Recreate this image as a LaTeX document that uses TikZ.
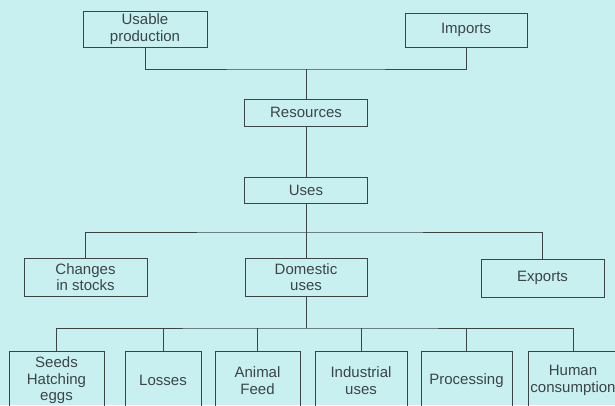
\documentclass[tikz,border=0pt]{standalone}
\usepackage{fontspec}
\setmainfont{Liberation Sans}
\usetikzlibrary{arrows}
\definecolor{paper}{RGB}{200,240,240}
\definecolor{ink}{RGB}{60,68,70}
\begin{document}
\begin{tikzpicture}[x=1pt,y=-1pt,
    box/.style={draw=ink,line width=1pt,text=ink,align=center,inner sep=1pt,
      font=\fontsize{15}{16.5}\selectfont},
    link/.style={draw=ink,line width=1pt}]
    \fill[paper] (0,0) rectangle (615,405);
    \clip (0,0) rectangle (615,405);
    \node[box,minimum width=124pt,minimum height=36pt] (prod) at (145,29) {Usable\\production};
    \node[box,minimum width=122pt,minimum height=34pt] (imp) at (466,30) {Imports};
    \node[box,minimum width=123pt,minimum height=27pt] (res) at (306,112.5) {Resources};
    \node[box,minimum width=123pt,minimum height=26pt] (uses) at (306,190) {Uses};
    \node[box,minimum width=123pt,minimum height=38pt] (chg) at (85.5,277) {Changes\\in stocks};
    \node[box,minimum width=122pt,minimum height=38pt] (dom) at (306,277) {Domestic\\uses};
    \node[box,minimum width=123pt,minimum height=38pt] (exp) at (542.5,278) {Exports};
    \node[box,minimum width=95pt,minimum height=59pt] (seeds) at (56.5,380.5) {Seeds\\Hatching\\eggs};
    \node[box,minimum width=76pt,minimum height=59pt] (loss) at (163,380.5) {Losses};
    \node[box,minimum width=85pt,minimum height=59pt] (feed) at (257.5,380.5) {Animal\\Feed};
    \node[box,minimum width=92pt,minimum height=59pt] (ind) at (361,380.5) {Industrial\\uses};
    \node[box,minimum width=91pt,minimum height=59pt] (proc) at (466.5,380.5) {Processing};
    \node[box,minimum width=90pt,minimum height=59pt] (hum) at (573,380.5) {Human\\consumption};
    \coordinate (j1) at (306,69);
    \coordinate (j2) at (306,232);
    \coordinate (j3) at (306,328);
    \draw[link] (prod.south) |- (j1) -| (imp.south);
    \draw[link] (j1) -- (res.north);
    \draw[link] (res.south) -- (uses.north);
    \draw[link] (uses.south) -- (dom.north);
    \draw[link] (chg.north) |- (j2) -| (exp.north);
    \draw[link] (dom.south) -- (j3);
    \draw[link] (seeds.north) |- (j3) -| (hum.north);
    \foreach \n in {loss,feed,ind,proc}
      \draw[link] (\n.north) -- (\n.north |- j3);
\end{tikzpicture}
\end{document}
